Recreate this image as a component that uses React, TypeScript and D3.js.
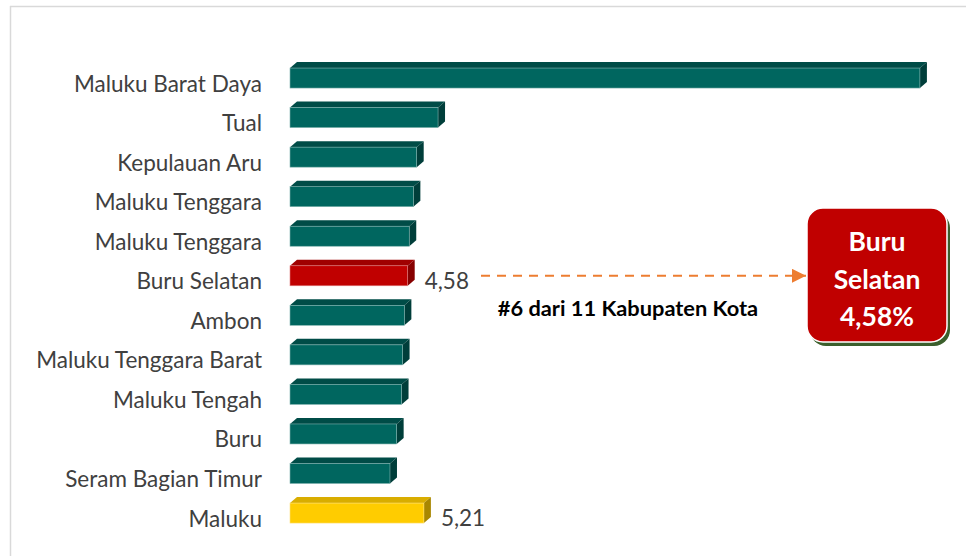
import React from "react";
import * as d3 from "d3";

const categories = [
  "Maluku Barat Daya",
  "Tual",
  "Kepulauan Aru",
  "Maluku Tenggara",
  "Maluku Tenggara",
  "Buru Selatan",
  "Ambon",
  "Maluku Tenggara Barat",
  "Maluku Tengah",
  "Buru",
  "Seram Bagian Timur",
  "Maluku",
];
const values = [24.51, 5.76, 4.93, 4.8, 4.64, 4.58, 4.45, 4.38, 4.34, 4.15, 3.89, 5.21];
const kinds = ["n", "n", "n", "n", "n", "h", "n", "n", "n", "n", "n", "p"];
const valueLabels: Record<number, string> = { 5: "4,58", 11: "5,21" };
const annotation = "#6 dari 11 Kabupaten Kota";
const calloutLines = ["Buru", "Selatan", "4,58%"];

const palette: Record<string, { front: string; top: string; side: string; edge: string }> = {
  n: { front: "#00665F", top: "#004C47", side: "#003E3A", edge: "#7FB2AE" },
  h: { front: "#C00000", top: "#A00000", side: "#870000", edge: "#E08080" },
  p: { front: "#FFCC00", top: "#D9AD00", side: "#A88700", edge: "#FFE27F" },
};

const W = 967;
const H = 556;
const font = "Lato, 'Noto Sans', sans-serif";

export default function App() {
  const x = d3.scaleLinear().domain([0, 1]).range([290, 315.7]);
  const y = d3
    .scaleBand<number>()
    .domain(d3.range(categories.length))
    .range([48.5, 542.6])
    .paddingInner(0.494)
    .paddingOuter(0.494);
  const bw = y.bandwidth();
  const dx = 7;
  const dy = 6;
  const x0 = x(0);

  const highlightIdx = kinds.indexOf("h");
  const hy = (y(highlightIdx) as number) + bw / 2;

  return (
    <svg width={W} height={H} style={{ position: "absolute", left: 0, top: 0 }} fontFamily={font}>
      <rect x={0} y={0} width={W} height={H} fill="#ffffff" />
      {/* frame */}
      <line x1={10} y1={6.5} x2={966} y2={6.5} stroke="#D9D9D9" strokeWidth={1.5} />
      <line x1={10.5} y1={6} x2={10.5} y2={H} stroke="#D9D9D9" strokeWidth={1.5} />
      <defs>
        <marker id="arr" viewBox="0 0 10 10" refX={10} refY={5} markerWidth={14} markerHeight={14} markerUnits="userSpaceOnUse" orient="auto">
          <path d="M0,0 L10,5 L0,10 Z" fill="#ED7D31" />
        </marker>
      </defs>
      {categories.map((c, i) => {
        const top = y(i) as number;
        const xr = x(values[i]);
        const col = palette[kinds[i]];
        return (
          <g key={i}>
            <path
              d={`M${x0},${top} L${x0 + dx},${top - dy} L${xr + dx},${top - dy} L${xr},${top} Z`}
              fill={col.top}
            />
            <path
              d={`M${xr},${top} L${xr + dx},${top - dy} L${xr + dx},${top + bw - dy} L${xr},${top + bw} Z`}
              fill={col.side}
            />
            <rect x={x0} y={top} width={xr - x0} height={bw} fill={col.front} stroke={col.edge} strokeWidth={0.6} />
            <text
              x={262}
              y={top + bw / 2 + 5}
              textAnchor="end"
              dominantBaseline="central"
              fontSize={22.5}
              fill="#404040"
            >
              {c}
            </text>
            {valueLabels[i] && (
              <text
                x={xr + dx + 10}
                y={top + bw / 2 + 4.5}
                dominantBaseline="central"
                fontSize={22.5}
                fill="#404040"
              >
                {valueLabels[i]}
              </text>
            )}
          </g>
        );
      })}
      {/* dashed arrow */}
      <line
        x1={481}
        y1={hy}
        x2={806}
        y2={hy}
        stroke="#ED7D31"
        strokeWidth={2}
        strokeDasharray="9,7"
        markerEnd="url(#arr)"
      />
      <text x={628} y={307} textAnchor="middle" dominantBaseline="central" fontSize={21.8} fontWeight="bold" fill="#000">
        {annotation}
      </text>
      {/* callout */}
      <rect x={810} y={212} width={140} height={134} rx={16} fill="#3B5F2C" />
      <rect x={807} y={208} width={140} height={134} rx={16} fill="#C00000" stroke="#ffffff" strokeWidth={1.5} />
      {calloutLines.map((t, i) => (
        <text
          key={i}
          x={877}
          y={241 + i * 37.5}
          textAnchor="middle"
          dominantBaseline="central"
          fontSize={26.5}
          fontWeight="bold"
          fill="#ffffff"
        >
          {t}
        </text>
      ))}
    </svg>
  );
}
